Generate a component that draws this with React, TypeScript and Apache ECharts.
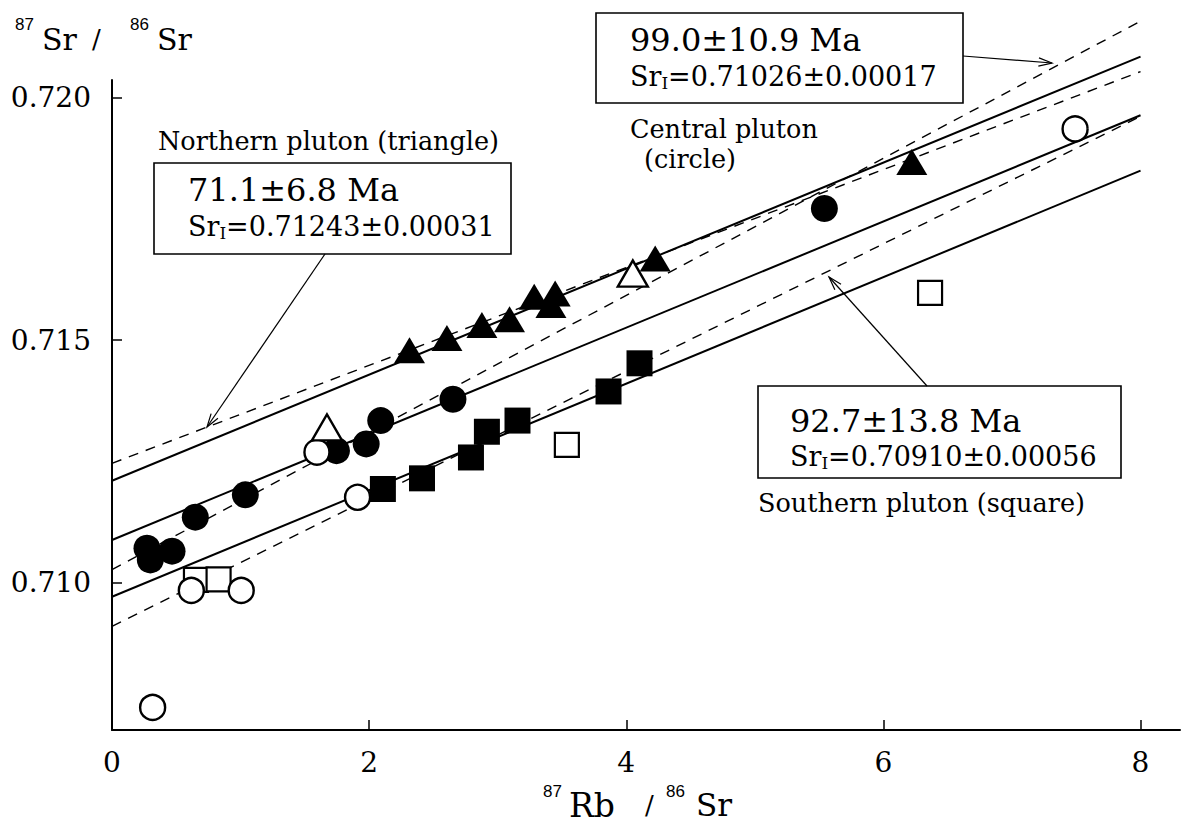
import React, { useEffect, useRef } from 'react';
import * as echarts from 'echarts';

// ---- data (87Rb/86Sr, 87Sr/86Sr) ----
const centralFilled = [
  [0.272, 0.71071], [0.298, 0.71047], [0.467, 0.71065], [0.648, 0.71135], [1.037, 0.71181],
  [1.746, 0.71272], [1.977, 0.71286], [2.09, 0.71334], [2.652, 0.71378], [5.541, 0.71771],
];
const centralOpen = [
  [0.316, 0.70743], [0.617, 0.70984], [1.005, 0.70984], [1.594, 0.71269], [1.91, 0.71176], [7.491, 0.71935],
];
const northernFilled = [
  [2.314, 0.71479], [2.605, 0.71504], [2.877, 0.71531], [3.092, 0.71543], [3.284, 0.71589],
  [3.447, 0.71596], [3.414, 0.71572], [4.225, 0.71668], [6.221, 0.71867],
];
const northernOpen = [[1.672, 0.7132], [4.051, 0.71637]];
const southernFilled = [
  [2.107, 0.71193], [2.411, 0.71215], [2.792, 0.71258], [2.916, 0.71311], [3.154, 0.71334],
  [3.862, 0.71394], [4.103, 0.71452],
];
const southernOpen = [[0.653, 0.71006], [0.829, 0.71007], [3.538, 0.71284], [6.363, 0.71597]];

// regression lines (solid) and isochrons (dashed), endpoints at x = 0 and x = 8
const northernSolid = [[0, 0.7121], [8, 0.72084]];
const northernDashed = [[0, 0.71246], [8, 0.72053]];
const centralSolid = [[0, 0.71088], [8, 0.71963]];
const centralDashed = [[0, 0.71027], [8, 0.72157]];
const southernSolid = [[0, 0.70971], [8, 0.71849]];
const southernDashed = [[0, 0.7091], [8, 0.71961]];

const xTicks = [0, 2, 4, 6, 8];
const yTicks = [0.71, 0.715, 0.72];

const SERIF = '"DejaVu Serif", serif';
const SANS = '"Liberation Sans", Arial, sans-serif';

function txt(text: string, x: number, y: number, size: number, family = SERIF, lineHeight?: number) {
  return {
    type: 'text',
    x,
    y,
    style: {
      text,
      fill: '#000',
      fontSize: size,
      fontFamily: family,
      lineHeight: lineHeight || size,
      align: 'left',
      verticalAlign: 'middle',
      textAlign: 'left',
      textVerticalAlign: 'middle',
    },
  };
}

function srLine(value: string, x: number, y: number) {
  return {
    type: 'text',
    x,
    y,
    style: {
      text: '{t|Sr}{s|I}{t|' + value + '}',
      fill: '#000',
      align: 'left',
      verticalAlign: 'middle',
      textAlign: 'left',
      textVerticalAlign: 'middle',
      rich: {
        t: { fontSize: 27, fontFamily: SERIF, fill: '#000', lineHeight: 30 },
        s: { fontSize: 17, fontFamily: SERIF, fill: '#000', lineHeight: 4, verticalAlign: 'bottom' },
      },
    },
  };
}

function arrow(x1: number, y1: number, x2: number, y2: number) {
  const a = Math.atan2(y2 - y1, x2 - x1);
  const L = 14;
  const w = 0.3;
  const p1 = [x2 - L * Math.cos(a - w), y2 - L * Math.sin(a - w)];
  const p2 = [x2 - L * Math.cos(a + w), y2 - L * Math.sin(a + w)];
  return [
    { type: 'line', shape: { x1, y1, x2, y2 }, style: { stroke: '#000', lineWidth: 1.2 } },
    { type: 'polyline', shape: { points: [p1, [x2, y2], p2] }, style: { stroke: '#000', fill: null, lineWidth: 1.2 } },
  ];
}

function box(x: number, y: number, w: number, h: number) {
  return { type: 'rect', shape: { x, y, width: w, height: h }, style: { fill: 'none', stroke: '#000', lineWidth: 1.6 } };
}

export default function App() {
  const ref = useRef<HTMLDivElement>(null);
  useEffect(() => {
    if (!ref.current) return;
    const chart = echarts.init(ref.current, undefined, { renderer: 'svg' });
    const lineSeries = (data: number[][], dashed: boolean) => ({
      type: 'line',
      data,
      symbol: 'none',
      clip: false,
      silent: true,
      z: 1,
      lineStyle: { color: '#000', opacity: 1, width: dashed ? 1.4 : 2, type: dashed ? [10, 8] : 'solid' },
    });
    const filledStyle = { color: '#000', opacity: 1 };
    const openStyle = { color: '#fff', borderColor: '#000', borderWidth: 2.4, opacity: 1 };
    chart.setOption({
      animation: false,
      backgroundColor: '#fff',
      grid: { left: 112, top: 80, right: 10, bottom: 98, containLabel: false },
      xAxis: {
        type: 'value',
        min: 0,
        max: 8.307,
        axisLine: { show: true, onZero: false, lineStyle: { color: '#000', width: 2 } },
        axisTick: { show: true, inside: true, length: 10, customValues: xTicks, lineStyle: { color: '#000', width: 1.5 } },
        axisLabel: { customValues: xTicks, color: '#000', fontFamily: SERIF, fontSize: 28, margin: 18 },
        splitLine: { show: false },
      },
      yAxis: {
        type: 'value',
        min: 0.706965,
        max: 0.720357,
        axisLine: { show: true, onZero: false, lineStyle: { color: '#000', width: 2 } },
        axisTick: { show: true, inside: true, length: 10, customValues: yTicks, lineStyle: { color: '#000', width: 1.5 } },
        axisLabel: {
          customValues: yTicks,
          color: '#000',
          fontFamily: SERIF,
          fontSize: 28,
          margin: 21,
          formatter: (v: number) => v.toFixed(3),
        },
        splitLine: { show: false },
      },
      series: [
        lineSeries(northernSolid, false),
        lineSeries(northernDashed, true),
        lineSeries(centralSolid, false),
        lineSeries(centralDashed, true),
        lineSeries(southernSolid, false),
        lineSeries(southernDashed, true),
        { type: 'scatter', name: 'Central (filled)', data: centralFilled, symbol: 'circle', symbolSize: 27, itemStyle: filledStyle, z: 3 },
        { type: 'scatter', name: 'Southern (filled)', data: southernFilled, symbol: 'rect', symbolSize: 26, itemStyle: filledStyle, z: 3 },
        { type: 'scatter', name: 'Northern (filled)', data: northernFilled, symbol: 'triangle', symbolSize: [31, 26], itemStyle: filledStyle, z: 3 },
        { type: 'scatter', name: 'Southern (open)', data: southernOpen, symbol: 'rect', symbolSize: 24, itemStyle: { ...openStyle, borderWidth: 2.2 }, z: 4 },
        { type: 'scatter', name: 'Central (open)', data: centralOpen, symbol: 'circle', symbolSize: 25, itemStyle: openStyle, z: 5 },
        { type: 'scatter', name: 'Northern (open)', data: northernOpen, symbol: 'triangle', symbolSize: [30, 26], itemStyle: openStyle, z: 5 },
      ],
      graphic: [
        // y-axis title
        txt('87', 15, 24, 17, SANS),
        txt('Sr', 42, 39, 30),
        txt('/', 92, 39, 26),
        txt('86', 130, 24, 17, SANS),
        txt('Sr', 157, 39, 30),
        // x-axis title
        txt('87', 543, 791, 17, SANS),
        txt('Rb', 569, 805, 33),
        txt('/', 645, 805, 26),
        txt('86', 666, 791, 17, SANS),
        txt('Sr', 696, 805, 31),
        // Northern
        txt('Northern pluton (triangle)', 158, 141, 25.5),
        box(154, 163, 357, 91),
        txt('71.1±6.8 Ma', 188, 190, 32, SERIF, 26),
        srLine('=0.71243±0.00031', 188, 226),
        ...arrow(325, 254, 207, 427),
        // Central
        box(596, 13, 367, 90),
        txt('99.0±10.9 Ma', 630, 40, 32, SERIF, 26),
        srLine('=0.71026±0.00017', 630, 76),
        txt('Central pluton', 630, 129, 25.5, SERIF, 22),
        txt('(circle)', 644, 159, 25.5, SERIF, 22),
        ...arrow(963, 56, 1052, 63),
        // Southern
        box(758, 386, 363, 92),
        txt('92.7±13.8 Ma', 790, 421, 32, SERIF, 26),
        srLine('=0.70910±0.00056', 790, 456),
        txt('Southern pluton (square)', 758, 503, 25.5),
        ...arrow(927, 386, 829, 277),
      ],
    });
    return () => chart.dispose();
  }, []);
  return <div ref={ref} style={{ position: 'fixed', left: 0, top: 0, width: 1190, height: 828, background: '#fff' }} />;
}
